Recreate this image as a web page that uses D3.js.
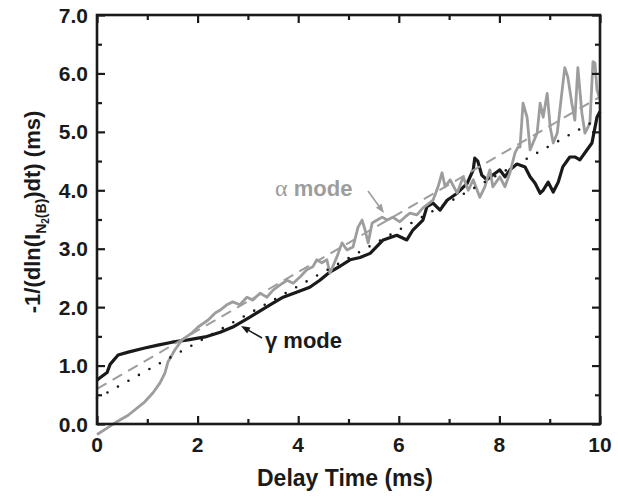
<!DOCTYPE html>
<html>
<head>
<meta charset="utf-8">
<script src="https://cdn.jsdelivr.net/npm/d3@7"></script>
<style>
  body { margin: 0; background: #fff; }
  svg text { font-family: "Liberation Sans", Arial, Helvetica, sans-serif; font-weight: bold; }
</style>
</head>
<body>
<div id="chart"></div>
<script>
// delay time (ms), -1/(dln(I)/dt) (ms)
var gammaMode = [
  [0, 0.75], [0.06, 0.79], [0.2, 0.88], [0.26, 1.02], [0.42, 1.18], [0.62, 1.23],
  [0.95, 1.3], [1.21, 1.35], [1.49, 1.4], [1.81, 1.44], [2.15, 1.49], [2.45, 1.57],
  [2.7, 1.66], [3.04, 1.83], [3.44, 2.04], [3.7, 2.17], [3.98, 2.26], [4.23, 2.34],
  [4.43, 2.46], [4.63, 2.6], [4.83, 2.7], [5.03, 2.81], [5.23, 2.85], [5.43, 2.92],
  [5.69, 3.15], [5.96, 3.23], [6.16, 3.15], [6.28, 3.32], [6.48, 3.49], [6.56, 3.72],
  [6.68, 3.78], [6.82, 3.66], [6.96, 3.83], [7.16, 3.95], [7.36, 4.12], [7.48, 4.35],
  [7.51, 4.55], [7.57, 4.5], [7.65, 4.26], [7.75, 4.18], [7.87, 4.26], [8.01, 4.35],
  [8.11, 4.23], [8.21, 4.35], [8.35, 4.45], [8.51, 4.4], [8.61, 4.23], [8.71, 4.12],
  [8.81, 3.95], [8.87, 4.0], [8.97, 4.14], [9.07, 3.97], [9.17, 4.14], [9.26, 4.4],
  [9.4, 4.57], [9.5, 4.57], [9.6, 4.52], [9.74, 4.69], [9.84, 4.81], [9.94, 5.25], [10, 5.35]
];

var alphaMode = [
  [0, -0.18], [0.2, -0.07], [0.36, 0.02], [0.62, 0.15], [0.95, 0.38], [1.11, 0.53],
  [1.25, 0.7], [1.35, 0.87], [1.41, 1.06], [1.55, 1.27], [1.69, 1.44], [1.89, 1.56],
  [2.01, 1.66], [2.21, 1.78], [2.35, 1.9], [2.45, 1.95], [2.58, 2.04], [2.7, 2.09],
  [2.84, 2.04], [2.98, 2.17], [3.1, 2.12], [3.24, 2.24], [3.38, 2.17], [3.5, 2.29],
  [3.64, 2.38], [3.78, 2.46], [3.9, 2.41], [4.04, 2.52], [4.17, 2.64], [4.29, 2.69],
  [4.37, 2.81], [4.47, 2.76], [4.57, 2.81], [4.63, 2.58], [4.77, 2.86], [4.87, 3.1],
  [4.97, 2.98], [5.09, 3.03], [5.19, 3.37], [5.27, 3.49], [5.33, 3.32], [5.39, 3.1],
  [5.47, 3.44], [5.57, 3.49], [5.67, 3.54], [5.77, 3.49], [5.88, 3.54], [6.02, 3.46],
  [6.12, 3.54], [6.22, 3.61], [6.36, 3.58], [6.48, 3.7], [6.56, 3.75], [6.68, 3.83],
  [6.78, 4.06], [6.86, 4.3], [6.92, 4.06], [7.02, 4.18], [7.16, 3.95], [7.28, 4.23],
  [7.38, 4.0], [7.48, 4.18], [7.61, 3.88], [7.71, 4.06], [7.81, 4.35], [7.87, 4.06],
  [8.01, 4.23], [8.11, 4.06], [8.21, 4.3], [8.31, 4.64], [8.37, 4.74], [8.41, 4.74],
  [8.47, 5.49], [8.55, 5.25], [8.61, 4.69], [8.75, 4.98], [8.81, 5.49], [8.87, 5.25],
  [8.95, 5.66], [9.01, 5.08], [9.07, 4.81], [9.15, 4.98], [9.24, 5.66], [9.3, 6.1],
  [9.36, 5.94], [9.44, 5.49], [9.5, 5.2], [9.56, 6.1], [9.64, 5.32], [9.7, 4.98],
  [9.8, 5.15], [9.86, 6.2], [9.9, 6.18], [9.94, 5.72], [10, 5.55]
];

// linear fits (endpoints)
var alphaFit = [[0, 0.6], [10, 5.6]];
var gammaFit = [[0, 0.44], [10, 5.24]];

var xTicks = [0, 2, 4, 6, 8, 10];
var yTicks = [0, 1, 2, 3, 4, 5, 6, 7];

var width = 618, height = 497;
var margin = { top: 15, right: 18, bottom: 73, left: 97 };

var svg = d3.select("#chart").append("svg")
  .attr("width", width)
  .attr("height", height);

var x = d3.scaleLinear().domain([0, 10]).range([margin.left, width - margin.right]);
var y = d3.scaleLinear().domain([0, 7]).range([height - margin.bottom, margin.top]);

var line = d3.line()
  .x(function(d) { return x(d[0]); })
  .y(function(d) { return y(d[1]); });

// data curves
svg.append("path").datum(gammaMode)
  .attr("d", line)
  .attr("fill", "none")
  .attr("stroke", "#1a1a1a")
  .attr("stroke-width", 3.2)
  .attr("stroke-linejoin", "round");

svg.append("path").datum(alphaMode)
  .attr("d", line)
  .attr("fill", "none")
  .attr("stroke", "#9d9d9d")
  .attr("stroke-width", 2.8)
  .attr("stroke-linejoin", "round");

// fits
svg.append("path").datum(alphaFit)
  .attr("d", line)
  .attr("fill", "none")
  .attr("stroke", "#9d9d9d")
  .attr("stroke-width", 2)
  .attr("stroke-dasharray", "11,7");

svg.append("path").datum(gammaFit)
  .attr("d", line)
  .attr("fill", "none")
  .attr("stroke", "#1a1a1a")
  .attr("stroke-width", 2.6)
  .attr("stroke-linecap", "round")
  .attr("stroke-dasharray", "0,12");

// axes, ticks inward on all sides
var majorLen = 8, minorLen = 5;
var axBottom = d3.axisBottom(x).tickValues(d3.range(0, 11, 1)).tickSize(-minorLen).tickFormat("");
var axTop = d3.axisTop(x).tickValues(d3.range(0, 11, 1)).tickSize(-minorLen).tickFormat("");
var axLeft = d3.axisLeft(y).tickValues(d3.range(0, 7.01, 0.5)).tickSize(-minorLen).tickFormat("");
var axRight = d3.axisRight(y).tickValues(d3.range(0, 7.01, 0.5)).tickSize(-minorLen).tickFormat("");

function styleAxis(g) {
  g.select(".domain").remove();
  g.selectAll("line").attr("stroke", "#1a1a1a").attr("stroke-width", 2.2);
}

svg.append("g").attr("transform", "translate(0," + y(0) + ")").call(axBottom).call(styleAxis)
  .selectAll(".tick line").attr("y2", function(d) { return d % 2 === 0 ? -majorLen : -minorLen; });
svg.append("g").attr("transform", "translate(0," + y(7) + ")").call(axTop).call(styleAxis)
  .selectAll(".tick line").attr("y2", function(d) { return d % 2 === 0 ? majorLen : minorLen; });
svg.append("g").attr("transform", "translate(" + x(0) + ",0)").call(axLeft).call(styleAxis)
  .selectAll(".tick line").attr("x2", function(d) { return d % 1 === 0 ? majorLen : minorLen; });
svg.append("g").attr("transform", "translate(" + x(10) + ",0)").call(axRight).call(styleAxis)
  .selectAll(".tick line").attr("x2", function(d) { return d % 1 === 0 ? -majorLen : -minorLen; });

svg.append("rect")
  .attr("x", x(0)).attr("y", y(7))
  .attr("width", x(10) - x(0)).attr("height", y(0) - y(7))
  .attr("fill", "none").attr("stroke", "#1a1a1a").attr("stroke-width", 2.6);

// tick labels
svg.append("g").selectAll("text").data(xTicks).enter().append("text")
  .attr("x", function(d) { return x(d); })
  .attr("y", 452)
  .attr("text-anchor", "middle")
  .attr("font-size", 21)
  .attr("fill", "#1a1a1a")
  .text(function(d) { return d; });

svg.append("g").selectAll("text").data(yTicks).enter().append("text")
  .attr("x", 88)
  .attr("y", function(d) { return y(d) + 7.5; })
  .attr("text-anchor", "end")
  .attr("font-size", 21)
  .attr("fill", "#1a1a1a")
  .text(function(d) { return d.toFixed(1); });

// axis titles
svg.append("text")
  .attr("x", 345).attr("y", 486)
  .attr("text-anchor", "middle")
  .attr("font-size", 23)
  .attr("fill", "#1a1a1a")
  .text("Delay Time (ms)");

var yt = svg.append("text")
  .attr("transform", "translate(40,212) rotate(-90)")
  .attr("text-anchor", "middle")
  .attr("font-size", 22)
  .attr("fill", "#1a1a1a");
yt.append("tspan").text("-1/(dln(I");
yt.append("tspan").attr("font-size", 14).attr("dy", 6).text("N");
yt.append("tspan").attr("font-size", 10).attr("dy", 3).text("2");
yt.append("tspan").attr("font-size", 14).attr("dy", -3).text("(B)");
yt.append("tspan").attr("dy", -6).text(")dt) (ms)");

// annotations
var at = svg.append("text")
  .attr("x", 275).attr("y", 196)
  .attr("font-size", 22)
  .attr("fill", "#9d9d9d");
at.append("tspan").attr("font-weight", "normal")
  .attr("font-family", "'Liberation Serif', 'DejaVu Serif', serif").attr("font-size", 24).text("\u03b1");
at.append("tspan").text(" mode");

var gt = svg.append("text")
  .attr("x", 265).attr("y", 348)
  .attr("font-size", 22)
  .attr("fill", "#1a1a1a");
gt.append("tspan").text("\u03b3");
gt.append("tspan").text(" mode");

function arrow(x1, y1, x2, y2, color) {
  var ang = Math.atan2(y2 - y1, x2 - x1), L = 9, W = 3.5;
  svg.append("line")
    .attr("x1", x1).attr("y1", y1)
    .attr("x2", x2 - Math.cos(ang) * L * 0.7).attr("y2", y2 - Math.sin(ang) * L * 0.7)
    .attr("stroke", color).attr("stroke-width", 1.6);
  var bx = x2 - Math.cos(ang) * L, by = y2 - Math.sin(ang) * L;
  svg.append("path")
    .attr("d", "M" + x2 + "," + y2 +
      "L" + (bx - Math.sin(ang) * W) + "," + (by + Math.cos(ang) * W) +
      "L" + (bx + Math.sin(ang) * W) + "," + (by - Math.cos(ang) * W) + "Z")
    .attr("fill", color);
}
arrow(368, 191, 384, 213, "#9d9d9d");
arrow(262, 338, 241, 326, "#1a1a1a");
</script>
</body>
</html>
